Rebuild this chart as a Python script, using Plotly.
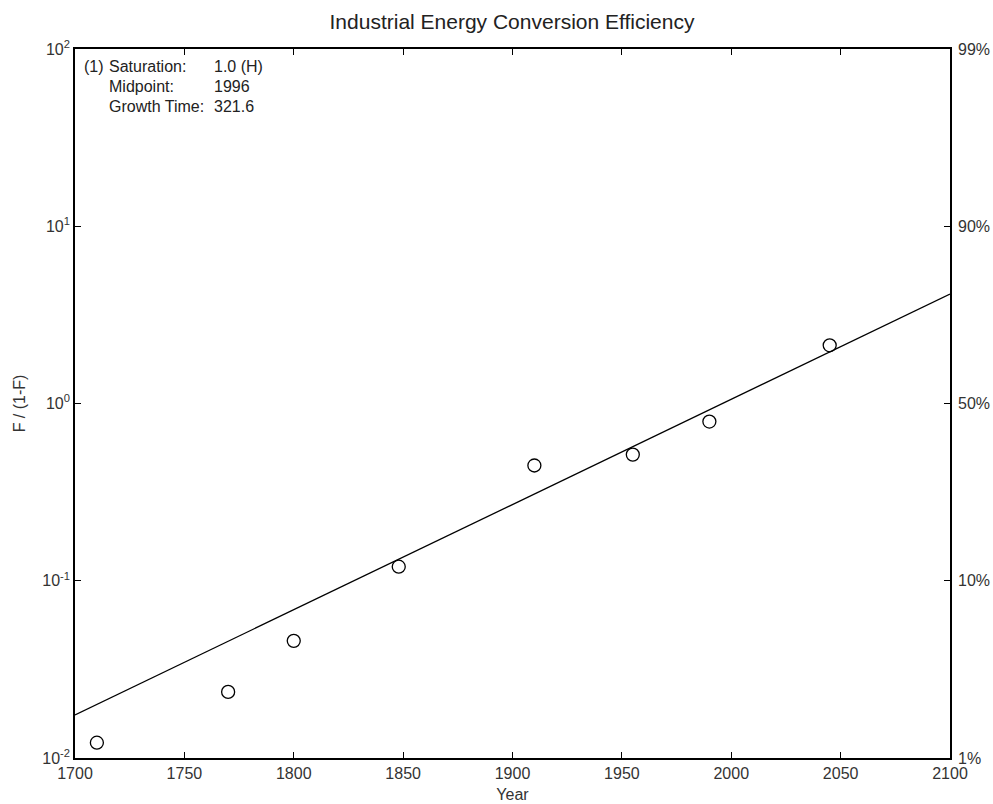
import plotly.graph_objects as go

# Data
years = [1710, 1770, 1800, 1848, 1910, 1955, 1990, 2045]
ratio = [0.0122, 0.0236, 0.0458, 0.120, 0.447, 0.515, 0.791, 2.13]
fit_years = [1700, 2100]
fit_ratio = [0.0175, 4.14]
x_ticks = [1700, 1750, 1800, 1850, 1900, 1950, 2000, 2050, 2100]
y_ticks = [0.01, 0.1, 1, 10, 100]
y_tick_text = ["10<sup>-2</sup>", "10<sup>-1</sup>", "10<sup>0</sup>", "10<sup>1</sup>", "10<sup>2</sup>"]
pct_text = ["1%", "10%", "50%", "90%", "99%"]
info_labels = ["Saturation:", "Midpoint:", "Growth Time:"]
info_values = ["1.0 (H)", "1996", "321.6"]

FONT = "Liberation Sans, Arial, sans-serif"
TXT = "#333333"

W, H = 993, 804
L, T, R, B = 75, 49, 43, 46
PW, PH = W - L - R, H - T - B


def px(xp):
    return (xp - L) / PW


def py(yp):
    return 1 - (yp - T) / PH


fig = go.Figure()
fig.add_trace(go.Scatter(x=fit_years, y=fit_ratio, mode="lines",
                         line=dict(color="black", width=1.3), showlegend=False))
fig.add_trace(go.Scatter(x=years, y=ratio, mode="markers",
                         marker=dict(symbol="circle-open", size=13, color="black",
                                     line=dict(width=1.3)), showlegend=False))
fig.add_trace(go.Scatter(x=fit_years, y=fit_ratio, yaxis="y2", mode="lines",
                         line=dict(width=0), hoverinfo="skip", showlegend=False))

fig.update_layout(
    width=W, height=H,
    margin=dict(l=L, r=R, t=T, b=B, autoexpand=False),
    paper_bgcolor="white", plot_bgcolor="white",
    font=dict(family=FONT, color=TXT),
    title=dict(text="Industrial Energy Conversion Efficiency", x=512 / W, xanchor="center",
               y=1 - 22 / H, yanchor="middle", font=dict(size=21, color="#222222")),
    xaxis=dict(range=[1700, 2100], tickvals=x_ticks, ticks="inside", ticklen=6,
               tickcolor="black", tickwidth=1.3, showline=True, linecolor="black", linewidth=1.6,
               mirror="ticks", showgrid=False, zeroline=False,
               tickfont=dict(size=16, color=TXT),
               title=dict(text="Year", font=dict(size=16, color=TXT), standoff=8)),
    yaxis=dict(type="log", range=[-2, 2], tickvals=y_ticks, ticktext=y_tick_text,
               ticks="inside", ticklen=6, tickcolor="black", tickwidth=1.3, showline=True,
               linecolor="black", linewidth=1.6, showgrid=False, zeroline=False,
               tickfont=dict(size=16, color=TXT),
               title=dict(text="F / (1-F)", font=dict(size=16, color=TXT), standoff=13)),
    yaxis2=dict(type="log", range=[-2, 2], overlaying="y", side="right",
                tickvals=y_ticks, ticktext=pct_text, ticks="inside", ticklen=6,
                tickcolor="black", tickwidth=1.3, showline=True, linecolor="black", linewidth=1.6,
                showgrid=False, zeroline=False, tickfont=dict(size=16, color=TXT),
                ticklabelstandoff=3),
)

ann_y = [66.5, 86.5, 106]
fig.add_annotation(text="(1)", xref="paper", yref="paper", x=px(82), y=py(ann_y[0]),
                   xanchor="left", yanchor="middle", showarrow=False,
                   font=dict(size=16, color="#222222"))
for lab, val, yy in zip(info_labels, info_values, ann_y):
    fig.add_annotation(text=lab, xref="paper", yref="paper", x=px(107), y=py(yy),
                       xanchor="left", yanchor="middle", showarrow=False,
                       font=dict(size=16, color="#222222"))
    fig.add_annotation(text=val, xref="paper", yref="paper", x=px(212), y=py(yy),
                       xanchor="left", yanchor="middle", showarrow=False,
                       font=dict(size=16, color="#222222"))

# remove the default page margin so the figure fills the window exactly
fig.write_html("out.html", config={"displayModeBar": False},
               post_script="document.body.style.margin='0';document.body.style.overflow='hidden';")
